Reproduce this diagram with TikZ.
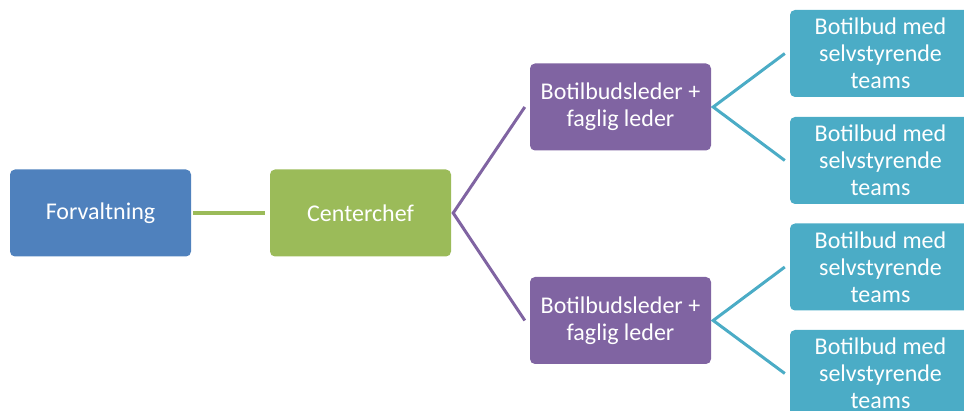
\documentclass[tikz,border=0pt]{standalone}
\usepackage{fontspec}
\setmainfont{Carlito}
\definecolor{cblue}{HTML}{4F81BD}
\definecolor{cgreen}{HTML}{9BBB59}
\definecolor{cpurple}{HTML}{8064A2}
\definecolor{cteal}{HTML}{4BACC6}
\begin{document}
\begin{tikzpicture}[x=1pt,y=-1pt,
  box/.style={rounded corners=5pt, minimum width=181pt, minimum height=87pt, inner sep=0pt,
    text=white, align=center, font=\fontsize{24}{27}\selectfont},
  link/.style={line width=3pt}]
\useasboundingbox (0,0) rectangle (964,411);
\clip (0,0) rectangle (964,411);
\node[box, fill=cblue] (f) at (100.5,213) {Forvaltning};
\node[box, fill=cgreen] (c) at (360.5,213) {Centerchef};
\node[box, fill=cpurple] (p1) at (620.5,107) {Botilbudsleder +\\faglig leder};
\node[box, fill=cpurple] (p2) at (620.5,320.5) {Botilbudsleder +\\faglig leder};
\node[box, fill=cteal] (t1) at (880.5,53.5) {Botilbud med\\selvstyrende\\teams};
\node[box, fill=cteal] (t2) at (880.5,160.5) {Botilbud med\\selvstyrende\\teams};
\node[box, fill=cteal] (t3) at (880.5,267) {Botilbud med\\selvstyrende\\teams};
\node[box, fill=cteal] (t4) at (880.5,373.5) {Botilbud med\\selvstyrende\\teams};
\draw[cgreen, line width=4pt] ([xshift=2pt]f.east) -- ([xshift=-5pt]c.west);
\coordinate (a1) at ([xshift=2pt]c.east);
\draw[cpurple, link] ([xshift=-5pt]p1.west) -- (a1) -- ([xshift=-5pt]p2.west);
\coordinate (a2) at ([xshift=2pt]p1.east);
\draw[cteal, link] ([xshift=-5pt]t1.west) -- (a2) -- ([xshift=-5pt]t2.west);
\coordinate (a3) at ([xshift=2pt]p2.east);
\draw[cteal, link] ([xshift=-5pt]t3.west) -- (a3) -- ([xshift=-5pt]t4.west);
\end{tikzpicture}
\end{document}
